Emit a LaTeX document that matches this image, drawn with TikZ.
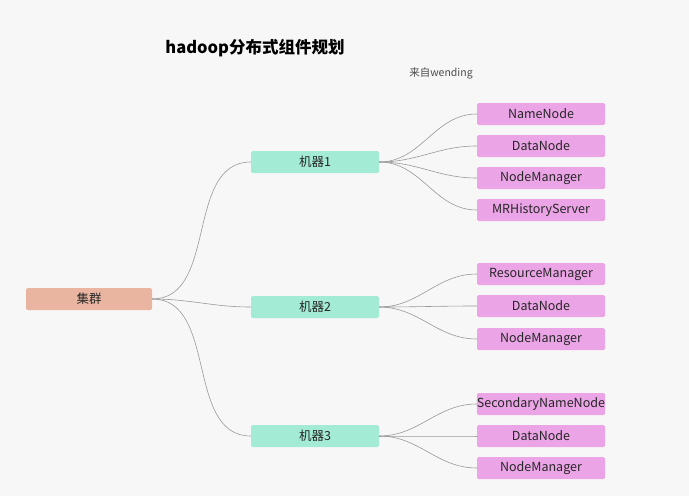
\documentclass[tikz,border=0pt]{standalone}
\usepackage{fontspec}
\setmainfont{Noto Sans CJK SC}
\definecolor{bg}{HTML}{F7F7F7}
\definecolor{rootc}{HTML}{EAB5A0}
\definecolor{machc}{HTML}{A3EBD4}
\definecolor{leafc}{HTML}{EBA4E6}
\definecolor{linec}{HTML}{999999}
\tikzset{
  box/.style={rounded corners=1.5pt, minimum height=22pt, inner sep=0pt, font=\fontsize{12.5}{14}\selectfont, text=black!85},
  root/.style={box, fill=rootc, minimum width=126pt},
  mach/.style={box, fill=machc, minimum width=128pt},
  leaf/.style={box, fill=leafc, minimum width=128pt},
  link/.style={draw=linec, line width=0.6pt}
}
\begin{document}
\begin{tikzpicture}[x=1pt,y=-1pt]
\fill[bg] (0,0) rectangle (689,496);
\useasboundingbox (0,0) rectangle (689,496);
\node[font=\bfseries\fontsize{16.5}{18}\selectfont] (title) at (255,48) {hadoop分布式组件规划};
\node[font=\fontsize{10.5}{12}\selectfont, text=black!70] (src) at (441,73) {来自wending};
\node[root] (root) at (89,299) {集群};
\node[mach] (m1) at (315,162) {机器1};
\node[mach] (m2) at (315,307) {机器2};
\node[mach] (m3) at (315,436) {机器3};
\node[leaf] (l11) at (541,114) {NameNode};
\node[leaf] (l12) at (541,146) {DataNode};
\node[leaf] (l13) at (541,178) {NodeManager};
\node[leaf] (l14) at (541,210) {MRHistoryServer};
\node[leaf] (l21) at (541,274) {ResourceManager};
\node[leaf] (l22) at (541,306) {DataNode};
\node[leaf] (l23) at (541,339) {NodeManager};
\node[leaf] (l31) at (541,404) {SecondaryNameNode};
\node[leaf] (l32) at (541,436) {DataNode};
\node[leaf] (l33) at (541,468) {NodeManager};
\foreach \m in {m1,m2,m3}
  \draw[link] (root.east) to[out=0,in=180] (\m.west);
\foreach \l in {l11,l12,l13,l14}
  \draw[link] (m1.east) to[out=0,in=180] (\l.west);
\foreach \l in {l21,l22,l23}
  \draw[link] (m2.east) to[out=0,in=180] (\l.west);
\foreach \l in {l31,l32,l33}
  \draw[link] (m3.east) to[out=0,in=180] (\l.west);
\end{tikzpicture}
\end{document}
